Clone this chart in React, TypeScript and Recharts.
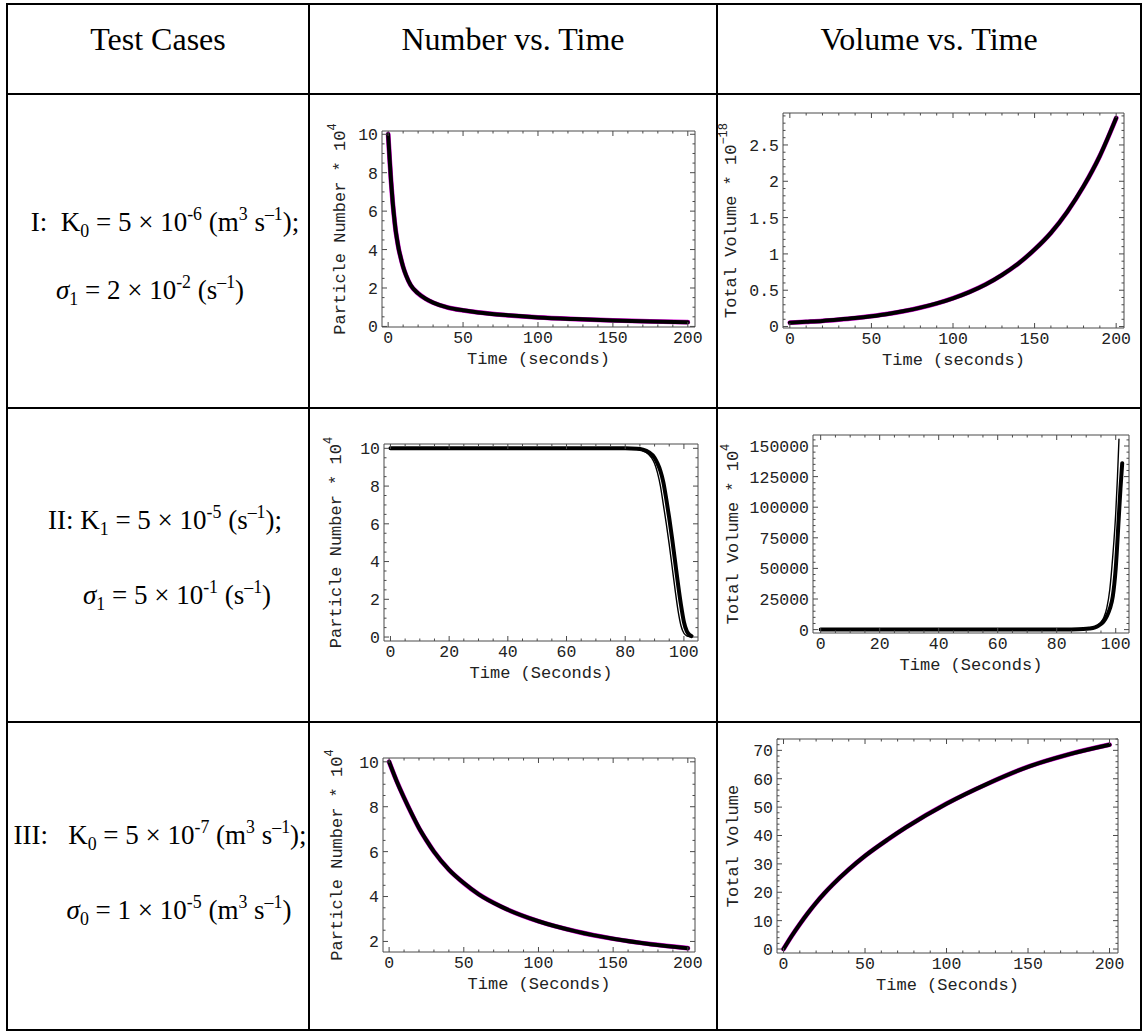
import React from 'react';
import { LineChart, Line, XAxis, YAxis, Label } from 'recharts';

// ---------------- Data ----------------
// Case I – particle number (×10^4) vs time (s)
const caseINumberTime = [0, 1, 2, 3, 4, 5, 6, 7, 8, 10, 12, 15, 20, 25, 30, 40, 50, 60, 80, 100, 125, 150, 175, 200];
const caseINumberValues = [10, 8.7, 7.5, 6.5, 5.7, 5.0, 4.5, 4.05, 3.7, 3.1, 2.65, 2.15, 1.72, 1.44, 1.24, 0.98, 0.84, 0.73, 0.58, 0.47, 0.38, 0.31, 0.26, 0.22];

// Case I – total volume (×10^-18) vs time (s)
const caseIVolumeTime = [0, 10, 20, 30, 40, 50, 60, 70, 80, 90, 100, 110, 120, 130, 140, 150, 160, 170, 180, 190, 200];
const caseIVolumeValues = [0.053, 0.065, 0.078, 0.096, 0.117, 0.143, 0.174, 0.213, 0.26, 0.318, 0.389, 0.475, 0.58, 0.71, 0.867, 1.06, 1.29, 1.58, 1.93, 2.35, 2.87];

// Case II – particle number (×10^4), thick and thin curves
const caseIINumberTimeThick = [0, 20, 40, 60, 80, 84, 86, 88, 90, 91, 92, 93, 94, 95, 96, 97, 98, 99, 100, 101, 102, 102.6];
const caseIINumberThick = [10, 10, 10, 10, 10, 9.98, 9.93, 9.8, 9.5, 9.2, 8.8, 8.2, 7.3, 6.3, 5.2, 4.0, 2.8, 1.7, 0.8, 0.3, 0.1, 0.05];
const caseIINumberTimeThin = [0, 20, 40, 60, 80, 83, 85, 87, 89, 90, 91, 92, 93, 94, 95, 96, 97, 98, 99, 100, 101, 102, 102.5];
const caseIINumberThin = [10, 10, 10, 10, 10, 9.98, 9.92, 9.8, 9.5, 9.2, 8.7, 8.0, 7.0, 6.0, 4.9, 3.7, 2.5, 1.4, 0.6, 0.2, 0.06, 0.02, 0.01];

// Case II – total volume (×10^4), thick and thin curves
const caseIIVolumeTimeThick = [0, 20, 40, 60, 80, 85, 89, 91, 93, 94, 95, 96, 97, 98, 99, 100, 101, 101.6, 102.2];
const caseIIVolumeThick = [10, 12, 15, 25, 80, 150, 450, 900, 1900, 2900, 4500, 7000, 11000, 17000, 27000, 50000, 90000, 115000, 136000];
const caseIIVolumeTimeThin = [0, 20, 40, 60, 80, 85, 89, 91, 93, 94, 95, 96, 97, 98, 99, 100, 100.6, 101.1];
const caseIIVolumeThin = [10, 12, 15, 30, 100, 200, 600, 1200, 2500, 3800, 6000, 10000, 18000, 33000, 60000, 95000, 125000, 155500];

// Case III – particle number (×10^4)
const caseIIINumberTime = [0, 5, 10, 15, 20, 25, 30, 40, 50, 60, 75, 100, 125, 150, 175, 200];
const caseIIINumberValues = [10, 9.15, 8.4, 7.7, 7.05, 6.5, 6.0, 5.2, 4.6, 4.1, 3.55, 2.9, 2.45, 2.12, 1.88, 1.7];

// Case III – total volume
const caseIIIVolumeTime = [0, 5, 10, 15, 20, 25, 30, 40, 50, 64, 75, 100, 125, 150, 175, 200];
const caseIIIVolumeValues = [0, 4.6, 8.8, 12.7, 16.3, 19.6, 22.6, 28.0, 32.8, 38.6, 42.8, 51.2, 58.2, 64.2, 68.6, 72];

// Tick labels (major ticks)
const xTicks200 = [0, 50, 100, 150, 200];
const xTicks100 = [0, 20, 40, 60, 80, 100];
const yTicksNumber = [0, 2, 4, 6, 8, 10];
const yTicksVolumeI = [0, 0.5, 1, 1.5, 2, 2.5];
const yTicksVolumeII = [0, 25000, 50000, 75000, 100000, 125000, 150000];
const yTicksNumberIII = [2, 4, 6, 8, 10];
const yTicksVolumeIII = [0, 10, 20, 30, 40, 50, 60, 70];

// ---------------- Helpers ----------------
type Pt = { t: number; v: number };
const zip = (t: number[], v: number[]): Pt[] => t.map((x, i) => ({ t: x, v: v[i] }));

function minorTicks(step: number, lo: number, hi: number, majors: number[]) {
  const out: number[] = [];
  const start = Math.ceil(lo / step - 1e-9);
  const end = Math.floor(hi / step + 1e-9);
  for (let k = start; k <= end; k++) {
    const v = +(k * step).toFixed(6);
    if (!majors.some((m) => Math.abs(m - v) < 1e-6)) out.push(v);
  }
  return out;
}
const isMajor = (v: number, majors: number[]) => majors.some((m) => Math.abs(m - v) < 1e-6);

const FRAME = '#4a4a4a';
const TEXT = '#222';
const MONO = '"Liberation Mono", "Courier New", monospace';
const SERIF = '"Liberation Serif", "Times New Roman", serif';
const MAGENTA = '#d400d4';
const TICK_FS = 16.5;
const LABEL_FS = 17;
const MAJ = 5;
const MIN = 2.5;

// space around the plot area inside each chart
const L = 100;
const T = 26;
const R = 12;
const B = 50;

type Series = { data: Pt[]; color: string; width: number };
type PlotProps = {
  left: number;
  top: number;
  width: number;
  height: number;
  xDomain: [number, number];
  yDomain: [number, number];
  xMajor: number[];
  xMinorStep: number;
  yMajor: number[];
  yMinorStep: number;
  yLabel: string;
  yLabelSup?: string;
  yLabelOffset: number;
  xLabel: string;
  series: Series[];
};

function Plot(p: PlotProps) {
  const W = L + p.width + R;
  const H = T + p.height + B;
  const px0 = L;
  const px1 = L + p.width;
  const py0 = T;
  const py1 = T + p.height;
  const xAll = [...p.xMajor, ...minorTicks(p.xMinorStep, p.xDomain[0], p.xDomain[1], p.xMajor)].sort((a, b) => a - b);
  const yAll = [...p.yMajor, ...minorTicks(p.yMinorStep, p.yDomain[0], p.yDomain[1], p.yMajor)].sort((a, b) => a - b);

  const bottomTick = (props: any) => {
    const { x, payload } = props;
    const major = isMajor(payload.value, p.xMajor);
    return (
      <g>
        <line x1={x} y1={py1} x2={x} y2={py1 - (major ? MAJ : MIN)} stroke={FRAME} strokeWidth={1} />
        {major && (
          <text x={x} y={py1 + 15.5} textAnchor="middle" fontFamily={MONO} fontSize={TICK_FS} fill={TEXT}>
            {String(payload.value)}
          </text>
        )}
      </g>
    );
  };
  const topTick = (props: any) => {
    const { x, payload } = props;
    const major = isMajor(payload.value, p.xMajor);
    return <line x1={x} y1={py0} x2={x} y2={py0 + (major ? MAJ : MIN)} stroke={FRAME} strokeWidth={1} />;
  };
  const leftTick = (props: any) => {
    const { y, payload } = props;
    const major = isMajor(payload.value, p.yMajor);
    return (
      <g>
        <line x1={px0} y1={y} x2={px0 + (major ? MAJ : MIN)} y2={y} stroke={FRAME} strokeWidth={1} />
        {major && (
          <text x={px0 - 4} y={y} dy="0.36em" textAnchor="end" fontFamily={MONO} fontSize={TICK_FS} fill={TEXT}>
            {String(payload.value)}
          </text>
        )}
      </g>
    );
  };
  const rightTick = (props: any) => {
    const { y, payload } = props;
    const major = isMajor(payload.value, p.yMajor);
    return <line x1={px1} y1={y} x2={px1 - (major ? MAJ : MIN)} y2={y} stroke={FRAME} strokeWidth={1} />;
  };

  const ycx = L - p.yLabelOffset;
  const ycy = T + p.height / 2;

  return (
    <div style={{ position: 'absolute', left: p.left - L, top: p.top - T, width: W, height: H }}>
      <LineChart width={W} height={H} margin={{ top: 0, right: 0, bottom: 0, left: 0 }}>
        <XAxis
          xAxisId="b"
          dataKey="t"
          type="number"
          domain={p.xDomain}
          allowDataOverflow
          ticks={xAll}
          interval={0}
          tickSize={0}
          tickMargin={0}
          tickLine={false}
          axisLine={{ stroke: FRAME, strokeWidth: 1 }}
          height={B}
          tick={bottomTick}
        >
          <Label
            content={() => (
              <text x={L + p.width / 2} y={py1 + 37} textAnchor="middle" fontFamily={MONO} fontSize={LABEL_FS} fill={TEXT}>
                {p.xLabel}
              </text>
            )}
          />
        </XAxis>
        <XAxis
          xAxisId="t"
          orientation="top"
          dataKey="t"
          type="number"
          domain={p.xDomain}
          allowDataOverflow
          ticks={xAll}
          interval={0}
          tickSize={0}
          tickMargin={0}
          tickLine={false}
          axisLine={{ stroke: FRAME, strokeWidth: 1 }}
          height={T}
          tick={topTick}
        />
        <YAxis
          yAxisId="l"
          type="number"
          domain={p.yDomain}
          allowDataOverflow
          ticks={yAll}
          interval={0}
          tickSize={0}
          tickMargin={0}
          tickLine={false}
          axisLine={{ stroke: FRAME, strokeWidth: 1 }}
          width={L}
          tick={leftTick}
        >
          <Label
            content={() => (
              <text
                x={ycx}
                y={ycy}
                transform={`rotate(-90 ${ycx} ${ycy})`}
                textAnchor="middle"
                dominantBaseline="central"
                fontFamily={MONO}
                fontSize={LABEL_FS}
                fill={TEXT}
              >
                {p.yLabel}
                {p.yLabelSup ? (
                  <tspan dy={-7} fontSize={12}>
                    {p.yLabelSup}
                  </tspan>
                ) : null}
              </text>
            )}
          />
        </YAxis>
        <YAxis
          yAxisId="r"
          orientation="right"
          type="number"
          domain={p.yDomain}
          allowDataOverflow
          ticks={yAll}
          interval={0}
          tickSize={0}
          tickMargin={0}
          tickLine={false}
          axisLine={{ stroke: FRAME, strokeWidth: 1 }}
          width={R}
          tick={rightTick}
        />
        {p.series.map((s, i) => (
          <Line
            key={i}
            xAxisId="b"
            yAxisId="l"
            data={s.data}
            dataKey="v"
            type="monotone"
            stroke={s.color}
            strokeWidth={s.width}
            dot={false}
            activeDot={false}
            isAnimationActive={false}
            strokeLinecap="round"
          />
        ))}
      </LineChart>
    </div>
  );
}

// ---------------- Table text helpers ----------------
const Sup = ({ children }: { children: React.ReactNode }) => (
  <span style={{ fontSize: '0.66em', position: 'relative', top: '-0.62em', lineHeight: 0 }}>{children}</span>
);
const Sub = ({ children }: { children: React.ReactNode }) => (
  <span style={{ fontSize: '0.66em', position: 'relative', top: '0.32em', lineHeight: 0 }}>{children}</span>
);

function TextLine({ cx, baseline, size, children }: { cx: number; baseline: number; size: number; children: React.ReactNode }) {
  return (
    <div
      style={{
        position: 'absolute',
        left: cx,
        top: baseline - 0.8375 * size,
        transform: 'translateX(-50%)',
        fontFamily: SERIF,
        fontSize: size,
        lineHeight: `${size}px`,
        whiteSpace: 'nowrap',
        color: '#000',
      }}
    >
      {children}
    </div>
  );
}

const HLine = ({ y }: { y: number }) => (
  <div style={{ position: 'absolute', left: 6, top: y, width: 1136, height: 2, background: '#000' }} />
);
const VLine = ({ x }: { x: number }) => (
  <div style={{ position: 'absolute', left: x, top: 3, width: 2, height: 1028, background: '#000' }} />
);

const CASE_FS = 27;
const HEAD_FS = 32;

export default function App() {
  return (
    <div style={{ position: 'absolute', left: 0, top: 0, width: 1144, height: 1032, background: '#fff', overflow: 'hidden' }}>
      {/* table grid */}
      <HLine y={3} />
      <HLine y={93} />
      <HLine y={407} />
      <HLine y={721} />
      <HLine y={1029} />
      <VLine x={6} />
      <VLine x={308} />
      <VLine x={716} />
      <VLine x={1140} />

      {/* header */}
      <TextLine cx={158} baseline={50} size={HEAD_FS}>Test Cases</TextLine>
      <TextLine cx={513} baseline={50} size={HEAD_FS}>Number vs. Time</TextLine>
      <TextLine cx={929} baseline={50} size={HEAD_FS}>Volume vs. Time</TextLine>

      {/* case I */}
      <TextLine cx={165} baseline={232} size={CASE_FS}>
        I:{'\u00a0 '}K<Sub>0</Sub> = 5 × 10<Sup>-6</Sup> (m<Sup>3</Sup> s<Sup>–1</Sup>);
      </TextLine>
      <TextLine cx={150} baseline={300} size={CASE_FS}>
        <i>σ</i>
        <Sub>1</Sub> = 2 × 10<Sup>-2</Sup> (s<Sup>–1</Sup>)
      </TextLine>

      {/* case II */}
      <TextLine cx={165} baseline={530} size={CASE_FS}>
        II: K<Sub>1</Sub> = 5 × 10<Sup>-5</Sup> (s<Sup>–1</Sup>);
      </TextLine>
      <TextLine cx={177} baseline={605} size={CASE_FS}>
        <i>σ</i>
        <Sub>1</Sub> = 5 × 10<Sup>-1</Sup> (s<Sup>–1</Sup>)
      </TextLine>

      {/* case III */}
      <TextLine cx={160} baseline={845} size={CASE_FS}>
        III:{'\u00a0\u00a0 '}K<Sub>0</Sub> = 5 × 10<Sup>-7</Sup> (m<Sup>3</Sup> s<Sup>–1</Sup>);
      </TextLine>
      <TextLine cx={179} baseline={920} size={CASE_FS}>
        <i>σ</i>
        <Sub>0</Sub> = 1 × 10<Sup>-5</Sup> (m<Sup>3</Sup> s<Sup>–1</Sup>)
      </TextLine>

      {/* charts */}
      <Plot
        left={382}
        top={131}
        width={313}
        height={196}
        xDomain={[-4.1, 204.8]}
        yDomain={[-0.03, 10.17]}
        xMajor={xTicks200}
        xMinorStep={10}
        yMajor={yTicksNumber}
        yMinorStep={0.5}
        yLabel="Particle Number * 10"
        yLabelSup="4"
        yLabelOffset={42}
        xLabel="Time (seconds)"
        series={[
          { data: zip(caseINumberTime, caseINumberValues), color: MAGENTA, width: 4.8 },
          { data: zip(caseINumberTime, caseINumberValues), color: '#000', width: 4 },
        ]}
      />
      <Plot
        left={783}
        top={113}
        width={341}
        height={215}
        xDomain={[-4.2, 204.8]}
        yDomain={[-0.02, 2.94]}
        xMajor={xTicks200}
        xMinorStep={10}
        yMajor={yTicksVolumeI}
        yMinorStep={0.1}
        yLabel="Total Volume * 10"
        yLabelSup="−18"
        yLabelOffset={52}
        xLabel="Time (seconds)"
        series={[
          { data: zip(caseIVolumeTime, caseIVolumeValues), color: MAGENTA, width: 4.8 },
          { data: zip(caseIVolumeTime, caseIVolumeValues), color: '#000', width: 4 },
        ]}
      />
      <Plot
        left={384}
        top={444}
        width={314}
        height={197}
        xDomain={[-2.2, 104.8]}
        yDomain={[-0.21, 10.23]}
        xMajor={xTicks100}
        xMinorStep={5}
        yMajor={yTicksNumber}
        yMinorStep={0.5}
        yLabel="Particle Number * 10"
        yLabelSup="4"
        yLabelOffset={48}
        xLabel="Time (Seconds)"
        series={[
          { data: zip(caseIINumberTimeThick, caseIINumberThick), color: '#000', width: 4 },
          { data: zip(caseIINumberTimeThin, caseIINumberThin), color: '#000', width: 1.4 },
        ]}
      />
      <Plot
        left={813}
        top={435}
        width={316}
        height={198}
        xDomain={[-2.6, 104.5]}
        yDomain={[-2780, 159000]}
        xMajor={xTicks100}
        xMinorStep={5}
        yMajor={yTicksVolumeII}
        yMinorStep={5000}
        yLabel="Total Volume * 10"
        yLabelSup="4"
        yLabelOffset={80}
        xLabel="Time (Seconds)"
        series={[
          { data: zip(caseIIVolumeTimeThick, caseIIVolumeThick), color: '#000', width: 4 },
          { data: zip(caseIIVolumeTimeThin, caseIIVolumeThin), color: '#000', width: 1.4 },
        ]}
      />
      <Plot
        left={383}
        top={758}
        width={312}
        height={194}
        xDomain={[-4.1, 204.8]}
        yDomain={[1.53, 10.17]}
        xMajor={xTicks200}
        xMinorStep={10}
        yMajor={yTicksNumberIII}
        yMinorStep={0.5}
        yLabel="Particle Number * 10"
        yLabelSup="4"
        yLabelOffset={46}
        xLabel="Time (Seconds)"
        series={[
          { data: zip(caseIIINumberTime, caseIIINumberValues), color: MAGENTA, width: 4.8 },
          { data: zip(caseIIINumberTime, caseIIINumberValues), color: '#000', width: 4 },
        ]}
      />
      <Plot
        left={777}
        top={739}
        width={341}
        height={214}
        xDomain={[-4.0, 205.2]}
        yDomain={[-1.4, 74.0]}
        xMajor={xTicks200}
        xMinorStep={10}
        yMajor={yTicksVolumeIII}
        yMinorStep={2}
        yLabel="Total Volume"
        yLabelOffset={44}
        xLabel="Time (Seconds)"
        series={[
          { data: zip(caseIIIVolumeTime, caseIIIVolumeValues), color: MAGENTA, width: 4.8 },
          { data: zip(caseIIIVolumeTime, caseIIIVolumeValues), color: '#000', width: 4 },
        ]}
      />
    </div>
  );
}
